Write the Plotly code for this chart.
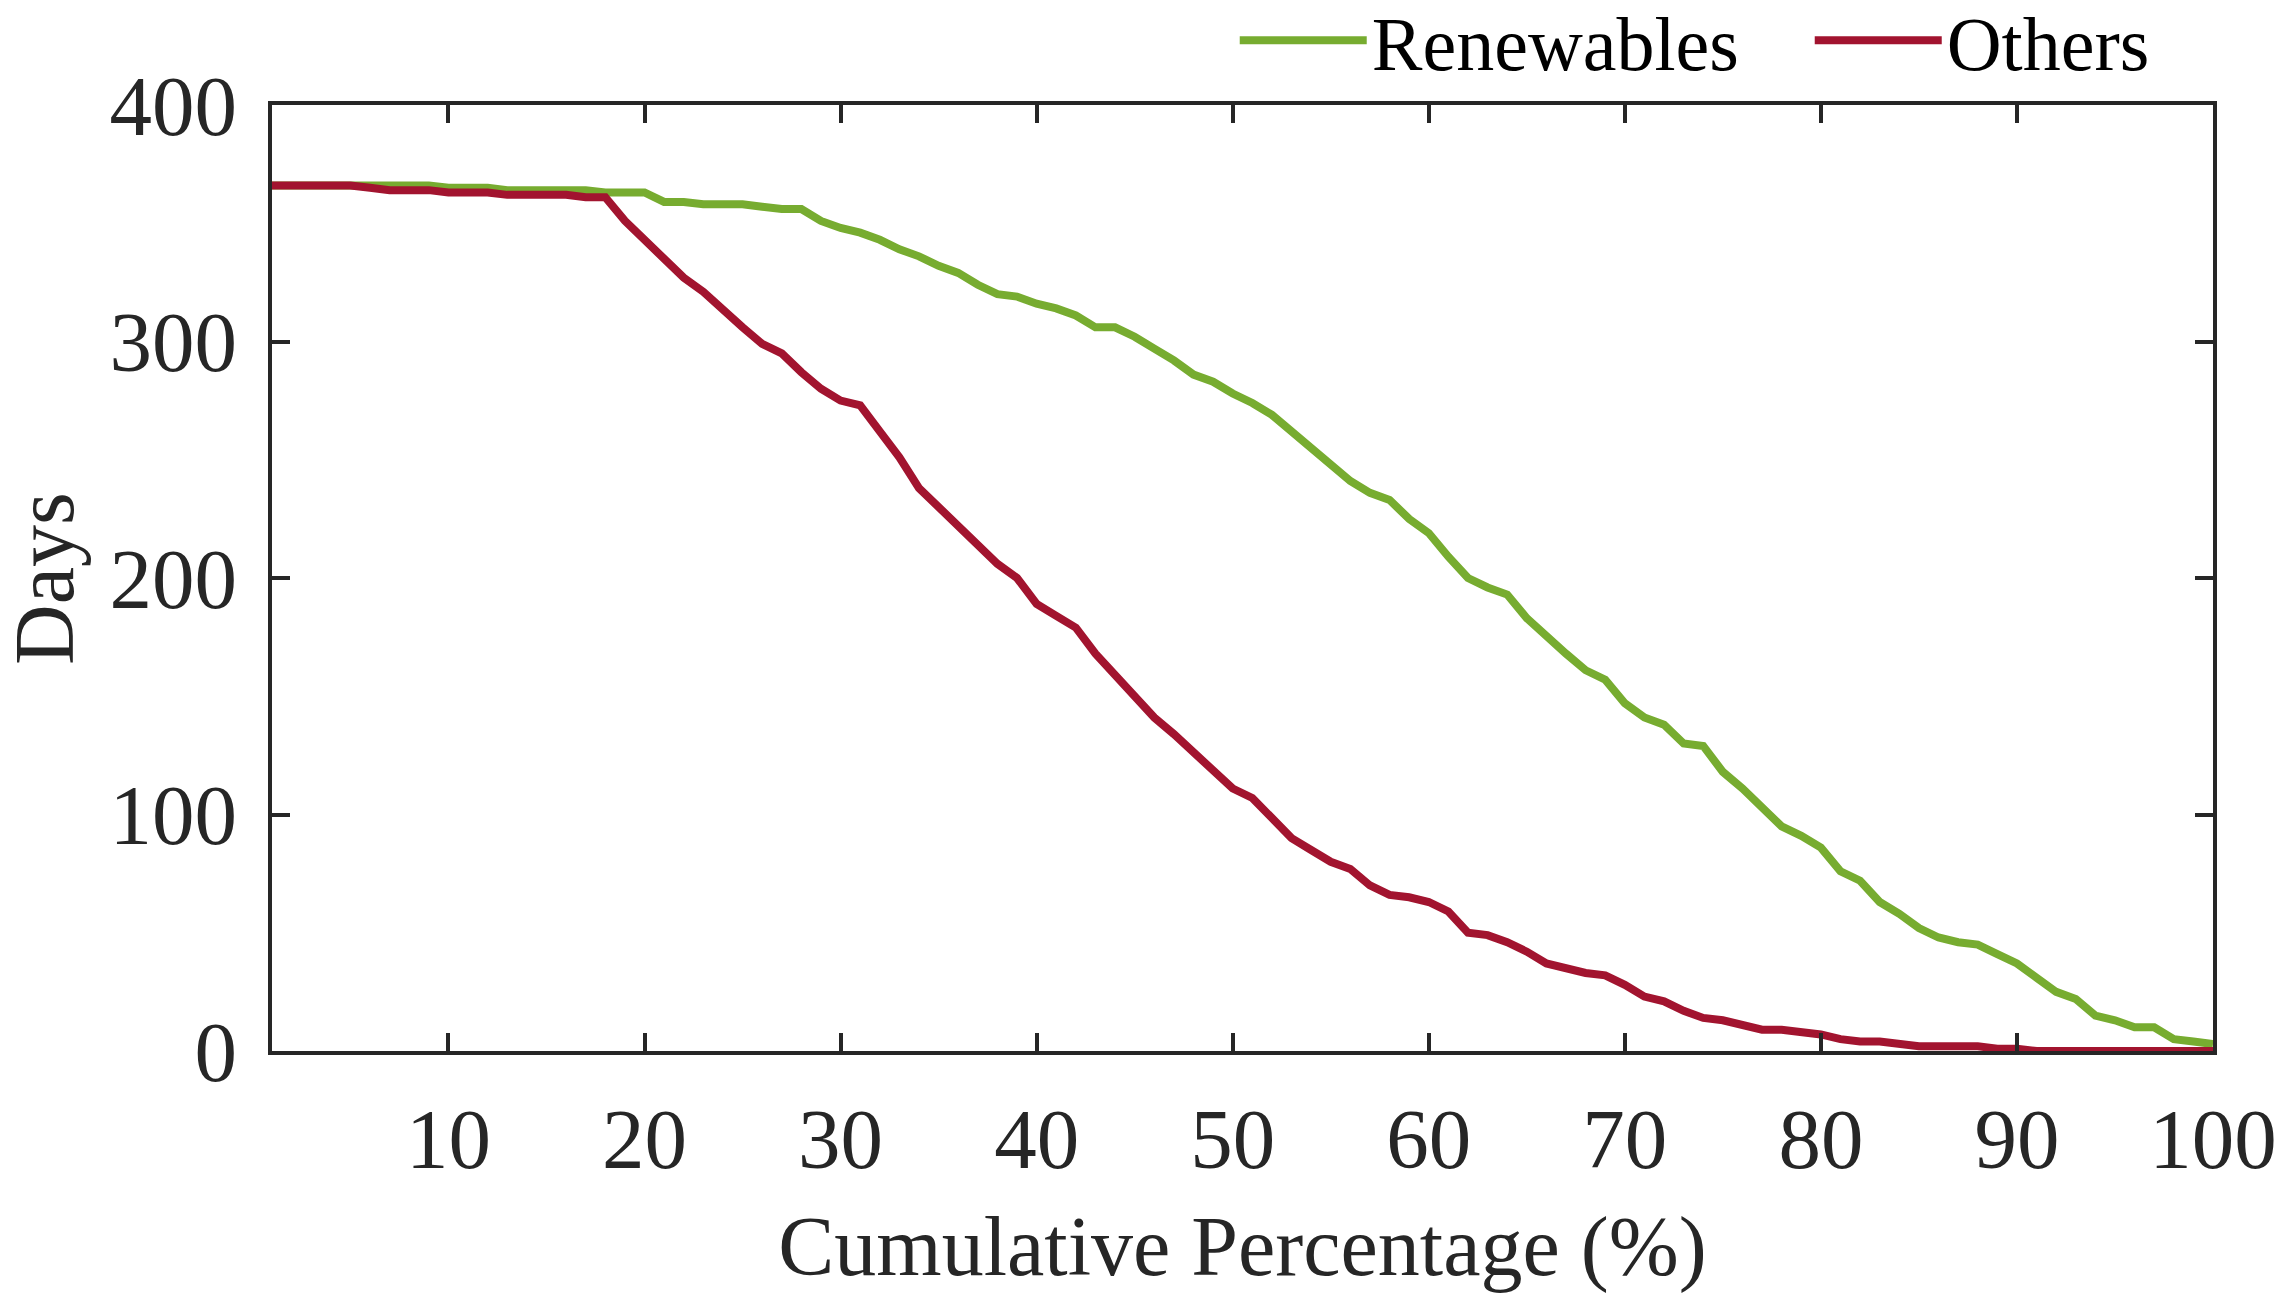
import plotly.graph_objects as go

pct = list(range(1, 101))

renewables = [366, 366, 366, 366, 366, 366, 366, 366, 366, 365,
              365, 365, 364, 364, 364, 364, 364, 363, 363, 363,
              359, 359, 358, 358, 358, 357, 356, 356, 351, 348,
              346, 343, 339, 336, 332, 329, 324, 320, 319, 316,
              314, 311, 306, 306, 302, 297, 292, 286, 283, 278,
              274, 269, 262, 255, 247, 241, 236, 233, 225, 219,
              209, 200, 196, 193, 183, 175, 168, 161, 157, 147,
              141, 138, 130, 129, 118, 111, 103, 95, 91, 86,
              76, 72, 63, 58, 52, 48, 46, 45, 41, 37,
              31, 25, 22, 15, 13, 10, 10, 5, 4, 3]

others = [366, 366, 366, 366, 366, 365, 364, 364, 364, 363,
          363, 363, 362, 362, 362, 362, 361, 361, 351, 343,
          336, 327, 321, 313, 306, 299, 295, 287, 280, 275,
          273, 262, 251, 238, 230, 223, 214, 206, 200, 189,
          184, 179, 168, 159, 151, 141, 134, 126, 119, 111,
          107, 99, 90, 85, 80, 77, 70, 66, 65, 63,
          59, 50, 49, 46, 42, 37, 35, 33, 32, 28,
          23, 21, 17, 14, 13, 11, 9, 9, 8, 7,
          5, 4, 4, 3, 2, 2, 2, 2, 1, 1,
          0, 0, 0, 0, 0, 0, 0, 0, 0, 0]

x_ticks = [10, 20, 30, 40, 50, 60, 70, 80, 90, 100]
y_ticks = [0, 100, 200, 300, 400]

FONT = "Liberation Serif"
AX = "#262626"

fig = go.Figure()
fig.add_trace(go.Scatter(x=pct, y=renewables, mode="lines", name="Renewables",
                         line=dict(color="#77AC30", width=8)))
fig.add_trace(go.Scatter(x=pct, y=others, mode="lines", name="Others",
                         line=dict(color="#A2142F", width=8)))

axis_common = dict(showgrid=False, zeroline=False, showline=True, linecolor=AX,
                   linewidth=4, mirror="allticks", ticks="inside", ticklen=18,
                   tickwidth=4, tickcolor=AX,
                   tickfont=dict(family=FONT, size=85, color=AX))

fig.update_xaxes(range=[1, 100], tickvals=x_ticks, ticktext=[str(v) for v in x_ticks],
                 title=dict(text="Cumulative Percentage (%)",
                            font=dict(family=FONT, size=84, color=AX), standoff=32),
                 ticklabelstandoff=11, **axis_common)
fig.update_yaxes(range=[0, 400], tickvals=y_ticks, ticktext=[str(v) for v in y_ticks],
                 ticklabelstandoff=14, **axis_common)

# y-axis title as a rotated text label placed in the left margin
fig.add_annotation(text="Days", xref="paper", yref="paper", x=-0.1175, y=0.5,
                   xanchor="center", yanchor="middle", textangle=-90, showarrow=False,
                   font=dict(family=FONT, size=84, color=AX))

fig.update_layout(
    width=2276, height=1295, autosize=False,
    paper_bgcolor="white", plot_bgcolor="white",
    margin=dict(l=264, r=71, t=97, b=252, autoexpand=False),
    showlegend=True,
    legend=dict(orientation="h", x=0.496, xanchor="left",
                yref="container", y=0.9750, yanchor="middle",
                font=dict(family=FONT, size=76, color="black"),
                itemwidth=127, entrywidth=433, entrywidthmode="pixels",
                bgcolor="rgba(0,0,0,0)", borderwidth=0),
)

fig.write_html("out.html")
